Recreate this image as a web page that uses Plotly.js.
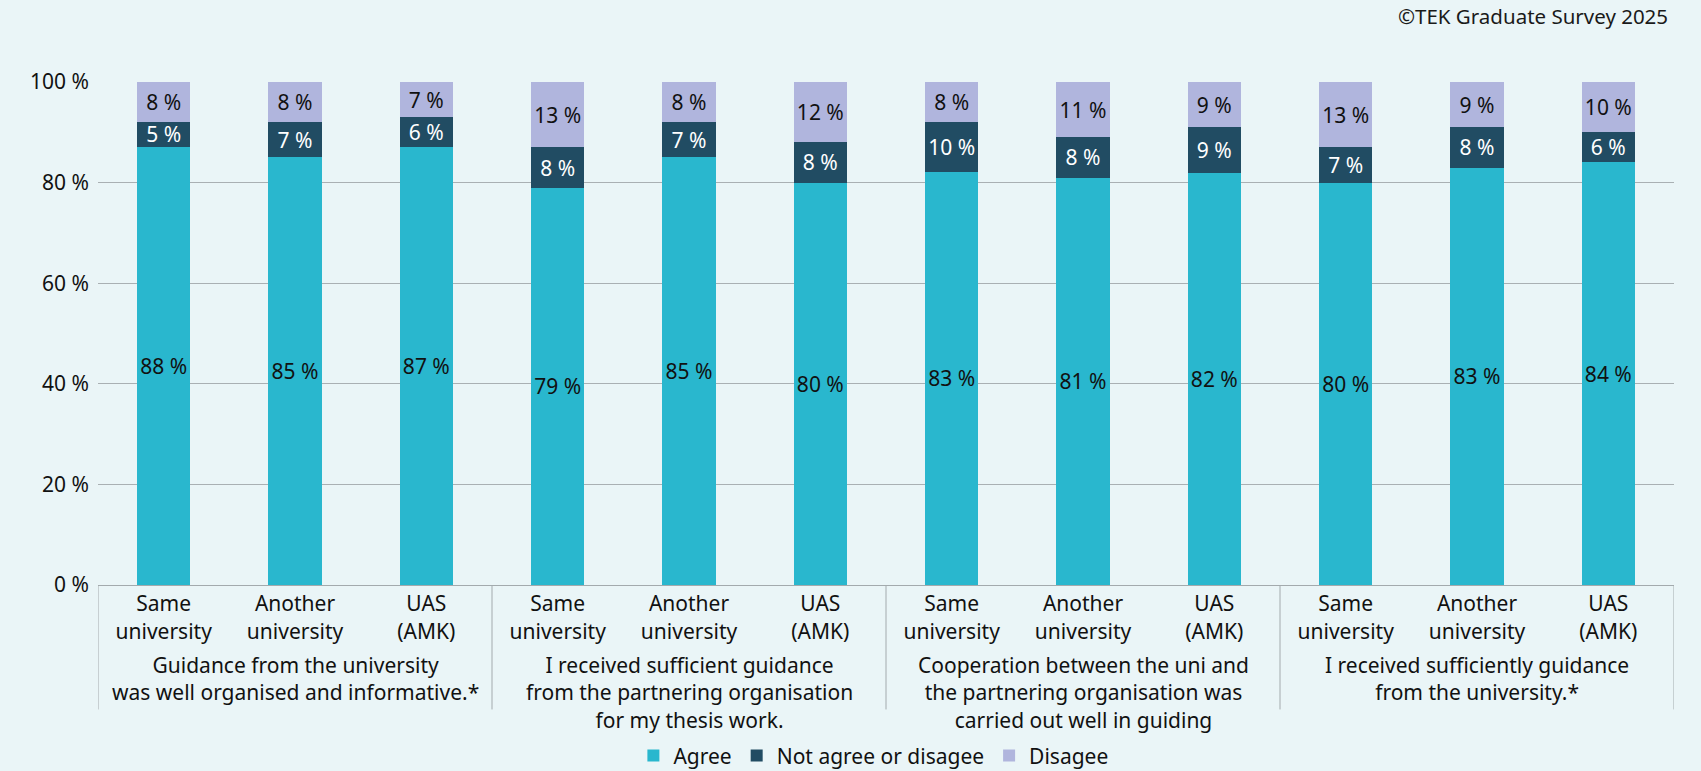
<!DOCTYPE html>
<html>
<head>
<meta charset="utf-8">
<script src="https://cdn.plot.ly/plotly-3.0.1.min.js"></script>
<style>
  html, body { margin: 0; padding: 0; background: #EAF5F7; }
  #chart { width: 1701px; height: 771px; }
</style>
</head>
<body>
<div id="chart"></div>
<script>
// ---- data ----
const subCategories = ['Same<br>university', 'Another<br>university', 'UAS<br>(AMK)',
                       'Same<br>university', 'Another<br>university', 'UAS<br>(AMK)',
                       'Same<br>university', 'Another<br>university', 'UAS<br>(AMK)',
                       'Same<br>university', 'Another<br>university', 'UAS<br>(AMK)'];
const groupLabels = [
  'Guidance from the university<br>was well organised and informative.*',
  'I received sufficient guidance<br>from the partnering organisation<br>for my thesis work.',
  'Cooperation between the uni and<br>the partnering organisation was<br>carried out well in guiding',
  'I received sufficiently guidance<br>from the university.*'
];
const agree    = [88, 85, 87, 79, 85, 80, 83, 81, 82, 80, 83, 84];
const neutral  = [ 5,  7,  6,  8,  7,  8, 10,  8,  9,  7,  8,  6];
const disagree = [ 8,  8,  7, 13,  8, 12,  8, 11,  9, 13,  9, 10];
const seriesNames = ['Agree', 'Not agree or disagee', 'Disagee'];
const sourceText = '©TEK Graduate Survey 2025';

// ---- styling ----
const FONT = '"Noto Sans", "Open Sans", sans-serif';
const BG = '#EAF5F7';
const colors = ['#29B7CE', '#214C63', '#B0B5DD'];
const labelColors = ['#111111', '#FFFFFF', '#111111'];

const xpos = agree.map((_, i) => i);
const seriesValues = [agree, neutral, disagree];

const traces = seriesValues.map((vals, k) => ({
  type: 'bar',
  name: seriesNames[k],
  x: xpos,
  y: vals,
  text: vals.map(v => v + ' %'),
  texttemplate: '%{text}',
  textposition: 'inside',
  insidetextanchor: 'middle',
  constraintext: 'none',
  textfont: { family: FONT, size: 21, color: labelColors[k] },
  marker: { color: colors[k], line: { width: 0 } },
  hoverinfo: 'name+text'
}));

const plotBottomPx = 585.5;
const plotHeightPx = 503.2;

const annotations = groupLabels.map((label, g) => ({
  xref: 'x', yref: 'paper',
  x: 3 * g + 1, y: 0,
  yanchor: 'top', xanchor: 'center', valign: 'top',
  yshift: -64,
  text: label, showarrow: false,
  font: { family: FONT, size: 21, color: '#111111' }
}));
annotations.push({
  xref: 'paper', yref: 'paper', x: 1, y: 1,
  xanchor: 'right', yanchor: 'middle',
  xshift: -4, yshift: 66,
  text: sourceText, showarrow: false,
  font: { family: FONT, size: 20.5, color: '#1a1a1a' }
});

const shapes = [];
for (let g = 0; g <= groupLabels.length; g++) {
  shapes.push({
    type: 'line', xref: 'x', yref: 'paper',
    x0: 3 * g - 0.5, x1: 3 * g - 0.5,
    y0: 0, y1: -(710 - plotBottomPx) / plotHeightPx,
    line: { color: '#A3AAAD', width: 1 }
  });
}

const layout = {
  width: 1701, height: 771,
  paper_bgcolor: BG, plot_bgcolor: BG,
  font: { family: FONT, size: 21, color: '#111111' },
  margin: { l: 98, r: 27, t: 82, b: 185.5, pad: 0 },
  barmode: 'stack',
  barnorm: 'percent',
  bargap: 0.595,
  showlegend: true,
  legend: {
    orientation: 'h', x: 0.492, xanchor: 'center',
    yref: 'container', y: 0.0195, yanchor: 'middle',
    font: { family: FONT, size: 21, color: '#111111' },
    traceorder: 'normal', itemclick: false, itemdoubleclick: false
  },
  xaxis: {
    range: [-0.5, 11.5],
    tickmode: 'array', tickvals: xpos, ticktext: subCategories,
    ticks: '', showgrid: false, zeroline: false,
    showline: true, linecolor: '#A3AAAD', linewidth: 1,
    tickfont: { family: FONT, size: 21, color: '#111111' },
    fixedrange: true
  },
  yaxis: {
    range: [0, 100], dtick: 20, tick0: 0,
    ticksuffix: ' %', showticksuffix: 'all',
    showgrid: true, gridcolor: '#A9B0B3', gridwidth: 1,
    zeroline: false, showline: false, ticks: '',
    ticklabelstandoff: 8,
    tickfont: { family: FONT, size: 21, color: '#111111' },
    fixedrange: true
  },
  uniformtext: { mode: 'show', minsize: 21 },
  annotations: annotations,
  shapes: shapes
};

Plotly.newPlot('chart', traces, layout, { displayModeBar: false, staticPlot: true });
</script>
</body>
</html>
